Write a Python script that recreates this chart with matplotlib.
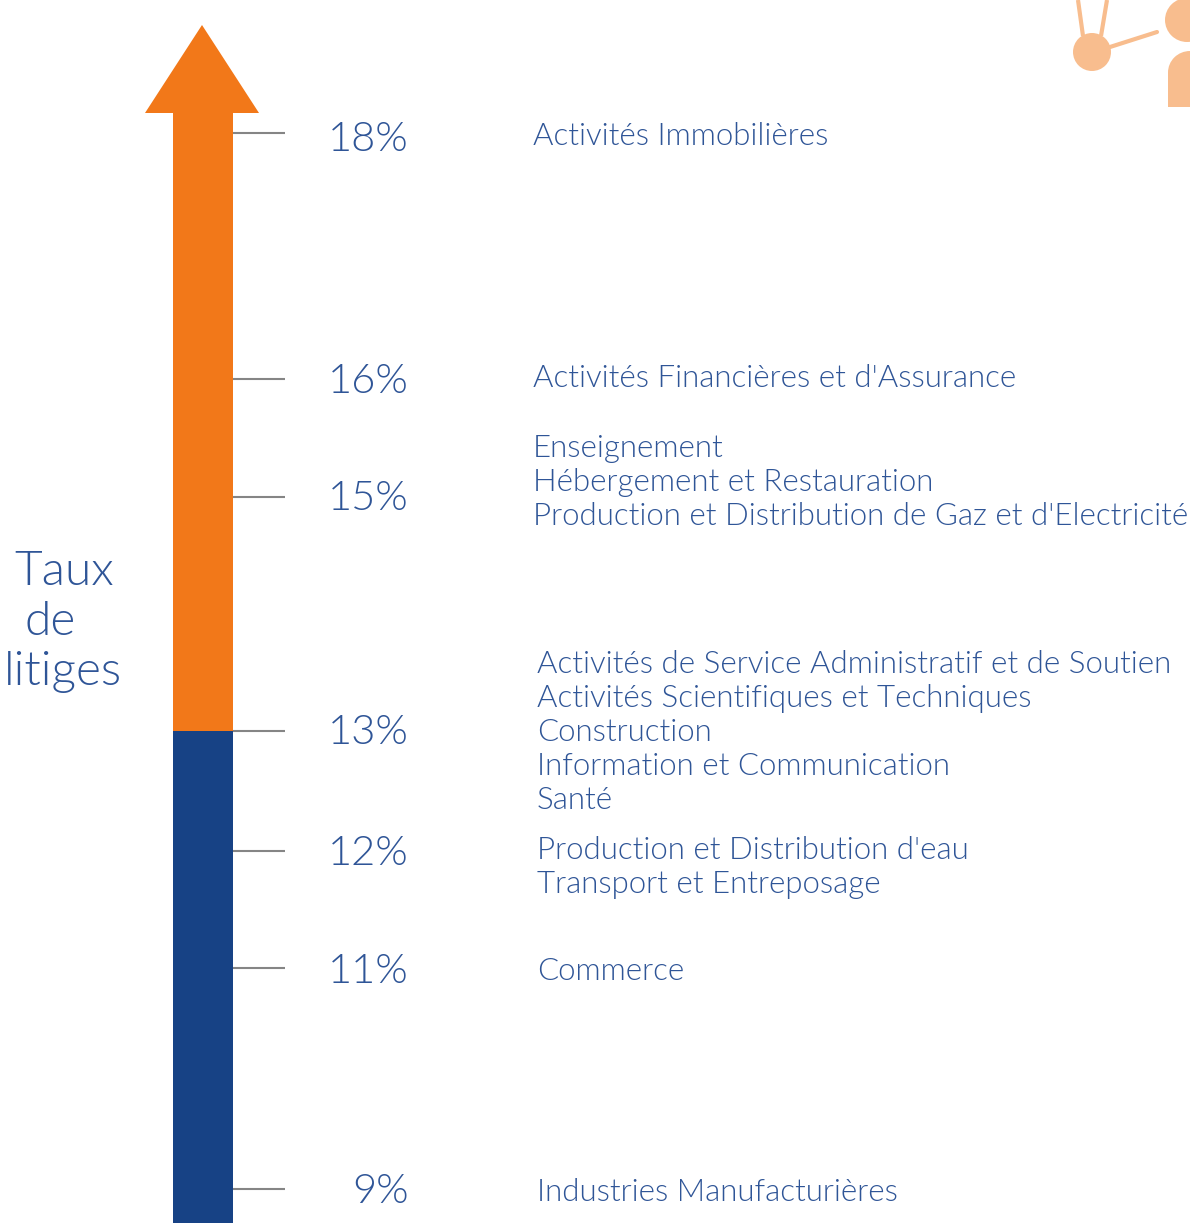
import matplotlib
matplotlib.use('Agg')
import matplotlib.pyplot as plt
from matplotlib.patches import Ellipse, Polygon, Rectangle

# taux de litiges, positions read from the arrow, labels as printed
rates = [18.0, 15.9, 14.9, 12.9, 11.88, 10.88, 9.0]
rate_labels = ['18%', '16%', '15%', '13%', '12%', '11%', '9%']
sectors = [
    ['Activités Immobilières'],
    ["Activités Financières et d'Assurance"],
    ['Enseignement', 'Hébergement et Restauration',
     "Production et Distribution de Gaz et d'Electricité"],
    ['Activités de Service Administratif et de Soutien',
     'Activités Scientifiques et Techniques', 'Construction',
     'Information et Communication', 'Santé'],
    ["Production et Distribution d'eau", 'Transport et Entreposage'],
    ['Commerce'],
    ['Industries Manufacturières'],
]
split_rate = 12.9

ORANGE = '#F27819'
BLUE = '#174285'
TEXT = '#2F5597'
GREY = '#858585'
ICON = '#F8BD8E'
FONT = 'Lato'
WEIGHT = 300

PX = 117.33  # pixels per point of rate
ymin = 9 - (1223 - 1189) / PX
ymax = 9 + 1189 / PX

# text offsets from the tick, in pixels
block_shift = [0, -4, -18, -2, 13, 0, 0]
label_shift = [18, 14, 13, 13, 14, 15, 14]


def px(y):
    return 9 + (1189 - y) / PX


fig = plt.figure(figsize=(11.9, 12.23), dpi=100)
ax = fig.add_axes([0, 0, 1, 1])
ax.set_xlim(0, 1190)
ax.set_ylim(ymin, ymax)
ax.axis('off')

# arrow
ax.bar(203, split_rate - ymin, width=60, bottom=ymin, color=BLUE, zorder=3)
ax.bar(203, px(113) - split_rate, width=60, bottom=split_rate, color=ORANGE, zorder=3)
ax.add_patch(Polygon([(145, px(113)), (202, px(25)), (259, px(113))], color=ORANGE, lw=0, zorder=3))

# ticks and labels
for i, r in enumerate(rates):
    ax.plot([233, 285], [r, r], color=GREY, lw=1.5, solid_capstyle='butt', zorder=2)
    ax.text(409, r - label_shift[i] / PX, rate_labels[i], color=TEXT, fontsize=30, family=FONT,
            weight=WEIGHT, ha='right', va='baseline')

    x0 = 533 if i < 3 else 537
    names = sectors[i]
    mid = r - block_shift[i] / PX
    for j, name in enumerate(names):
        y = mid + ((len(names) - 1) / 2 - j) * 34 / PX - 12 / PX
        ax.text(x0, y, name, color=TEXT, fontsize=22.5, family=FONT, weight=WEIGHT,
                ha='left', va='baseline')

# title
for word, x, y in [('Taux', 64, 585), ('de', 50, 635), ('litiges', 63, 685)]:
    ax.text(x, px(y), word, color=TEXT, fontsize=34.5, family=FONT, weight=WEIGHT,
            ha='center', va='baseline')

# icon in the corner
ax.plot([1078, 1083], [px(0), px(36)], color=ICON, lw=3, solid_capstyle='butt')
ax.plot([1107, 1101], [px(0), px(36)], color=ICON, lw=3, solid_capstyle='butt')
ax.plot([1110, 1157], [px(47), px(32)], color=ICON, lw=3, solid_capstyle='round')
for cx, cy, rad in [(1092, 52, 19), (1187, 20, 22)]:
    ax.add_patch(Ellipse((cx, px(cy)), 2 * rad, 2 * rad / PX, color=ICON, lw=0))
ax.add_patch(Ellipse((1190, px(72.5)), 44, 43 / PX, color=ICON, lw=0))
ax.add_patch(Rectangle((1168, px(107)), 30, 35 / PX, color=ICON, lw=0))

fig.savefig('out.png', dpi=100, facecolor='white')
